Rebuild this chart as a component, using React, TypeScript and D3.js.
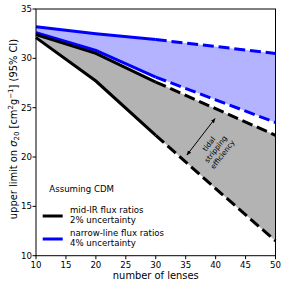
import React from "react";
import * as d3 from "d3";

const lenses = [10, 20, 30, 40, 50];
const mirLower = [32.1, 27.7, 22.2, 16.8, 11.5];
const mirUpper = [32.4, 30.5, 27.6, 24.9, 22.2];
const nlLower = [32.6, 30.8, 28.1, 25.8, 23.5];
const nlUpper = [33.2, 32.5, 31.9, 31.2, 30.5];
const xTicks = [10, 15, 20, 25, 30, 35, 40, 45, 50];
const yTicks = [10, 15, 20, 25, 30, 35];
const solidUntil = 30;
const arrowFrom = [35.2, 20.2];
const arrowTo = [39.9, 23.9];
const annotAt = [40.0, 20.8];
const annotLines = ["tidal", "stripping", "efficiency"];
const legendItems = [
  { color: "#000000", lines: ["mid-IR flux ratios", "2% uncertainty"] },
  { color: "#0000ff", lines: ["narrow-line flux ratios", "4% uncertainty"] },
];

const W = 287, H = 287;
const FONT = "DejaVu Sans, sans-serif";

export default function App() {
  const x = d3.scaleLinear().domain([10, 50]).range([36, 275.5]);
  const y = d3.scaleLinear().domain([10, 35]).range([255.7, 9]);

  const rows = (arr: number[]) => lenses.map((n, i) => ({ n, v: arr[i] }));
  const area = (lo: number[], hi: number[]) =>
    d3.area<{ n: number; lo: number; hi: number }>()
      .x((d) => x(d.n)).y0((d) => y(d.lo)).y1((d) => y(d.hi))(
        lenses.map((n, i) => ({ n, lo: lo[i], hi: hi[i] }))
      ) || "";
  const line = d3.line<{ n: number; v: number }>().x((d) => x(d.n)).y((d) => y(d.v));
  const solid = (arr: number[]) => line(rows(arr).filter((d) => d.n <= solidUntil)) || "";
  const dashed = (arr: number[]) => line(rows(arr).filter((d) => d.n >= solidUntil)) || "";

  const series = [
    { arr: nlUpper, c: "#0000ff" },
    { arr: nlLower, c: "#0000ff" },
    { arr: mirUpper, c: "#000000" },
    { arr: mirLower, c: "#000000" },
  ];

  const ax0 = x(arrowFrom[0]), ay0 = y(arrowFrom[1]);
  const ax1 = x(arrowTo[0]), ay1 = y(arrowTo[1]);
  const ang = (Math.atan2(ay1 - ay0, ax1 - ax0) * 180) / Math.PI;
  const tx = x(annotAt[0]), ty = y(annotAt[1]);
  const aFs = 7.2, aLh = 8.6;

  return (
    <svg width={W} height={H} style={{ position: "fixed", left: 0, top: 0, background: "#fff" }} fontFamily={FONT}>
      <defs>
        <marker id="ah" viewBox="0 0 10 10" refX="9" refY="5" markerWidth="5" markerHeight="5" orient="auto-start-reverse">
          <path d="M0,1 L10,5 L0,9 z" fill="#000" />
        </marker>
      </defs>
      <path d={area(mirLower, mirUpper)} fill="#b3b3b3" />
      <path d={area(nlLower, nlUpper)} fill="#b3b3ff" />
      {series.map((s, i) => (
        <g key={i}>
          <path d={solid(s.arr)} fill="none" stroke={s.c} strokeWidth={3} />
          <path d={dashed(s.arr)} fill="none" stroke={s.c} strokeWidth={3} strokeDasharray="11,4.8" />
        </g>
      ))}
      <line x1={ax0} y1={ay0} x2={ax1} y2={ay1} stroke="#000" strokeWidth={1} markerStart="url(#ah)" markerEnd="url(#ah)" />
      <text transform={`translate(${tx},${ty}) rotate(${ang})`} fontSize={aFs} textAnchor="middle" fill="#000">
        {annotLines.map((t, i) => (
          <tspan key={i} x={0} y={(i - (annotLines.length - 1) / 2) * aLh + aFs * 0.36}>{t}</tspan>
        ))}
      </text>
      {/* frame */}
      <rect x={x(10)} y={y(35)} width={x(50) - x(10)} height={y(10) - y(35)} fill="none" stroke="#000" strokeWidth={1} />
      {xTicks.map((t) => (
        <g key={"x" + t}>
          <line x1={x(t)} x2={x(t)} y1={y(10)} y2={y(10) + 3.5} stroke="#000" strokeWidth={1} />
          <text x={x(t)} y={268} fontSize={8.6} textAnchor="middle">{t}</text>
        </g>
      ))}
      {yTicks.map((t) => (
        <g key={"y" + t}>
          <line x1={x(10) - 3.5} x2={x(10)} y1={y(t)} y2={y(t)} stroke="#000" strokeWidth={1} />
          <text x={32} y={y(t) + 3.1} fontSize={8.6} textAnchor="end">{t}</text>
        </g>
      ))}
      <text x={(x(10) + x(50)) / 2} y={278.5} fontSize={9.9} textAnchor="middle">number of lenses</text>
      <text transform="translate(17,129) rotate(-90)" fontSize={9.9} textAnchor="middle">
        upper limit on <tspan fontStyle="italic">σ</tspan>
        <tspan fontSize={7} dy={2}>20</tspan>
        <tspan dy={-2}> [cm</tspan>
        <tspan fontSize={7} dy={-4}>2</tspan>
        <tspan dy={4}>g</tspan>
        <tspan fontSize={7} dy={-4}>−1</tspan>
        <tspan dy={4}>] (95% CI)</tspan>
      </text>
      {/* legend */}
      <text x={49.3} y={192.3} fontSize={8.6}>Assuming CDM</text>
      {legendItems.map((it, i) => {
        const ly = 216 + i * 23;
        return (
          <g key={i}>
            <line x1={42.7} x2={62.7} y1={ly} y2={ly} stroke={it.color} strokeWidth={3} />
            {it.lines.map((t, j) => (
              <text key={j} x={70} y={ly - 3 + j * 9.7} fontSize={8.6}>{t}</text>
            ))}
          </g>
        );
      })}
    </svg>
  );
}
